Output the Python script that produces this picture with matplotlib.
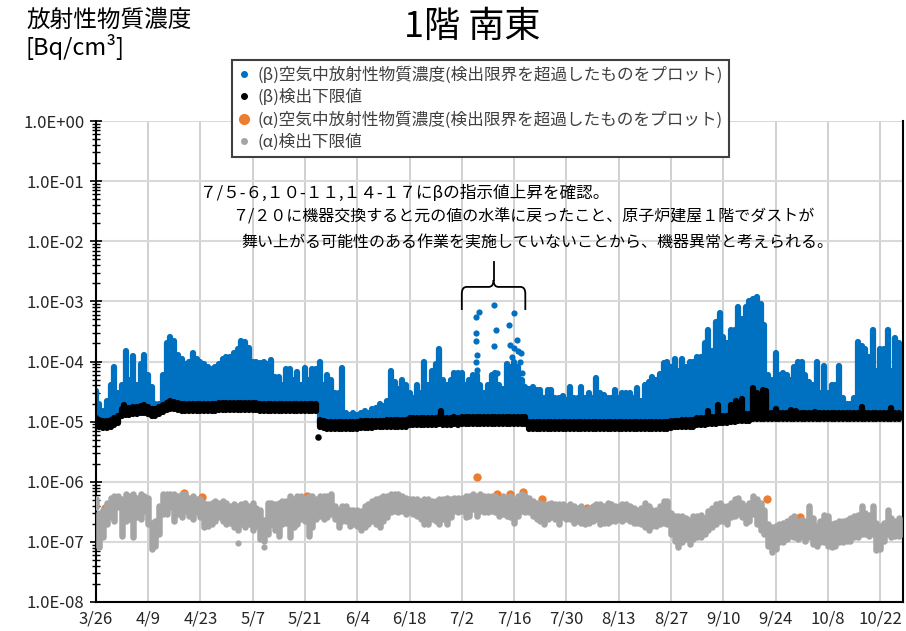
import numpy as np
import pandas as pd
import matplotlib
matplotlib.use("Agg")
import matplotlib.pyplot as plt
import matplotlib.dates as mdates
from matplotlib.lines import Line2D
from matplotlib.path import Path
from matplotlib.patches import PathPatch
from matplotlib.ticker import FixedLocator, LogLocator, FuncFormatter, NullFormatter

plt.rcParams['font.family'] = ['Noto Sans CJK JP', 'DejaVu Sans']

# daily values from 3/26, 216 days
start = pd.Timestamp('2021-03-26')

# (beta) concentration, daily highest reading [x1e-5 Bq/cm3]
beta_peak = [
    3.2, 2.0, 1.5, 2.2, 4, 8, 3, 4, 15, 5, 12.5, 4, 9, 13,
    6, 3.7, 2, 2, 6, 20, 26, 22, 13, 11, 9, 10, 14, 11,
    10, 9, 8, 7.5, 8, 9, 11, 12, 12, 14, 16, 22, 21, 17,
    10, 10, 9.5, 10, 9, 10.5, 5.6, 5.6, 4, 7.5, 7.5, 5, 6.7, 4,
    7.8, 5, 7.5, 7.5, 10, 4, 6, 5, 3, 3, 7.7, 1.4, 1.3, 1.4,
    1.3, 1.4, 1.5, 1.4, 1.6, 1.7, 2.0, 1.8, 2.2, 7, 4.5, 3.5, 5, 4,
    3, 2.5, 4, 3, 10, 4, 7, 9, 16, 5, 4, 5, 6.5, 6.5,
    6.5, 4, 5, 6, 6, 4, 3, 4, 6, 6.5, 4, 3.5, 9, 8,
    10, 8, 5, 3.7, 3.5, 3.7, 3.3, 3.3, 2.5, 3.3, 3.3, 2.5, 2.5, 2.7,
    2.3, 3.7, 2.5, 2.5, 3.8, 2.5, 3, 2.5, 5.3, 3, 2.8, 2.5, 2.5, 3.3,
    2.5, 3, 3, 3, 2.5, 3.6, 2.2, 4, 4.5, 5.5, 5, 6.3, 9.5, 10,
    8, 11, 7, 11, 8, 10, 10, 12, 12, 20, 34, 15, 45, 65,
    26, 20, 34, 34, 82, 50, 80, 100, 110, 120, 90, 40, 6, 5,
    14, 6, 6.5, 6, 5, 8, 10, 10, 6, 4.5, 4, 10, 3, 8.5,
    3, 4, 4, 8.5, 2.5, 2, 2, 2.5, 21, 18, 16, 12, 34, 7,
    16, 16, 34, 7, 25, 20,
]

# (beta) lower detection limit, daily level [x1e-5 Bq/cm3]
beta_lld = [
    1.0, 0.95, 0.9, 0.9, 0.95, 1.0, 1.1, 1.45, 1.5, 1.5, 1.55, 1.55, 1.6, 1.6,
    1.55, 1.45, 1.45, 1.55, 1.65, 1.8, 1.9, 1.85, 1.8, 1.75, 1.75, 1.75, 1.75, 1.75,
    1.75, 1.75, 1.75, 1.75, 1.75, 1.8, 1.8, 1.8, 1.8, 1.8, 1.8, 1.8, 1.8, 1.8,
    1.8, 1.8, 1.75, 1.75, 1.75, 1.75, 1.75, 1.75, 1.75, 1.75, 1.75, 1.75, 1.75, 1.75,
    1.75, 1.75, 1.75, 1.75, 0.95, 0.9, 0.88, 0.88, 0.88, 0.88, 0.88, 0.88, 0.88, 0.88,
    0.88, 0.9, 0.9, 0.9, 0.9, 0.92, 0.92, 0.92, 0.95, 0.95, 0.95, 0.95, 0.95, 0.95,
    1.0, 1.0, 1.0, 1.0, 1.0, 1.0, 1.0, 1.0, 1.05, 1.0, 1.0, 1.0, 1.05, 1.0,
    1.05, 1.05, 1.05, 1.05, 1.05, 1.05, 1.05, 1.05, 1.05, 1.05, 1.05, 1.05, 1.05, 1.05,
    1.05, 1.05, 1.05, 1.05, 0.87, 0.87, 0.87, 0.87, 0.87, 0.87, 0.87, 0.87, 0.87, 0.87,
    0.87, 0.87, 0.87, 0.87, 0.87, 0.87, 0.87, 0.87, 0.87, 0.87, 0.87, 0.87, 0.87, 0.87,
    0.88, 0.88, 0.88, 0.88, 0.88, 0.88, 0.88, 0.88, 0.88, 0.88, 0.88, 0.88, 0.88, 0.88,
    0.9, 0.92, 0.92, 0.95, 0.95, 0.95, 0.95, 1.0, 1.0, 1.02, 1.05, 1.05, 1.05, 1.08,
    1.1, 1.1, 1.15, 1.15, 1.2, 1.2, 1.2, 1.2, 1.25, 1.25, 1.25, 1.25, 1.25, 1.25,
    1.25, 1.25, 1.25, 1.25, 1.25, 1.25, 1.25, 1.25, 1.25, 1.25, 1.25, 1.25, 1.25, 1.25,
    1.25, 1.25, 1.25, 1.25, 1.25, 1.25, 1.25, 1.25, 1.25, 1.25, 1.25, 1.25, 1.25, 1.25,
    1.25, 1.25, 1.25, 1.25, 1.25, 1.25,
]

# short rises of the beta detection limit (day, x1e-5)
lld_bump_day = [7.5, 13, 20, 92.5, 164, 166.5, 170, 171.5, 173, 176, 177, 178.5, 179.5, 182, 186, 187.5, 192.5, 205, 213]
lld_bump_val = [1.9, 1.9, 2.2, 1.5, 1.5, 1.9, 1.9, 2.2, 2.4, 3.6, 3.0, 3.4, 3.2, 1.65, 1.55, 1.5, 1.45, 1.75, 1.7]
lld_low_day = [59.6]
lld_low_val = [0.55]

# (beta) readings of 7/5-6, 7/10-11, 7/14-17 (instrument fault) (day, x1e-5)
fault_day = [101.8, 102.7, 101.9, 101.9, 102.1, 101.9, 102.2, 106.5, 107.2, 106.5, 107.3,
             110.5, 112, 112.7, 111, 112, 113, 113.8, 111.5, 113.5, 114, 110.8]
fault_val = [56, 67, 30, 22, 13, 10, 7.3, 87, 34, 18, 6.5,
             40, 63, 23, 19, 17, 15, 14, 12, 10, 6.5, 8]

# (alpha) lower detection limit, daily range [x1e-7 Bq/cm3]
alpha_hi = [
    5.1, 3.05, 3.45, 4.5, 5.4, 5.8, 5.8, 5.1, 6.2, 5.8, 6.2, 5.4, 6.2, 5.8,
    5.4, 2.1, 2.2, 3.95, 6.2, 6.2, 6.2, 6.2, 5.8, 6.2, 6.2, 5.4, 5.8, 5.1,
    5.1, 4.5, 4.2, 4.5, 4.75, 4.5, 4.75, 4.5, 3.95, 4.2, 3.95, 4.2, 4.5, 3.95,
    4.5, 3.7, 3.45, 2.35, 4.5, 4.5, 4.2, 4.5, 4.75, 4.75, 5.8, 5.1, 5.8, 5.8,
    5.4, 5.8, 5.8, 5.1, 5.8, 5.8, 5.8, 6.2, 3.95, 3.45, 3.95, 3.95, 3.45, 3.45,
    3.45, 3.25, 3.95, 4.2, 4.75, 5.1, 5.4, 5.8, 5.8, 6.2, 6.2, 6.2, 5.8, 5.4,
    5.1, 5.1, 5.1, 4.75, 5.1, 5.1, 4.75, 4.75, 5.1, 5.1, 5.4, 5.1, 5.4, 5.4,
    5.4, 5.8, 5.8, 6.2, 5.8, 6.2, 5.8, 5.8, 5.8, 5.8, 5.1, 5.8, 5.4, 5.8,
    5.1, 5.8, 6.2, 5.8, 5.4, 4.75, 4.5, 4.5, 4.2, 4.2, 4.5, 4.2, 4.2, 4.2,
    3.95, 4.2, 3.95, 3.7, 3.95, 3.45, 3.7, 3.95, 4.2, 4.2, 3.95, 4.5, 4.2, 3.95,
    3.95, 4.2, 4.2, 3.95, 3.7, 3.45, 3.7, 4.5, 3.95, 3.45, 3.45, 3.95, 4.75, 4.75,
    3.05, 2.7, 2.7, 2.7, 2.5, 2.35, 2.7, 2.7, 2.85, 2.5, 3.25, 3.7, 4.2, 4.5,
    3.95, 3.95, 4.5, 5.1, 5.4, 4.5, 3.95, 4.5, 5.8, 5.1, 4.5, 3.45, 1.95, 1.8,
    1.85, 1.95, 2.1, 2.2, 2.5, 2.7, 2.2, 2.35, 2.2, 3.95, 2.5, 1.85, 2.2, 2.85,
    2.7, 1.95, 2.1, 2.2, 2.2, 2.35, 2.5, 2.7, 2.85, 3.95, 3.05, 2.85, 3.95, 2.1,
    1.85, 2.1, 3.45, 2.5, 2.2, 2.5,
]
alpha_lo = [
    3.75, 0.81, 1.2, 1.95, 2.55, 2.25, 3.75, 1.25, 2.25, 2.4, 1.2, 2.55, 2.4, 3.3,
    1.95, 0.76, 0.87, 1.35, 2.9, 2.9, 3.75, 2.25, 2.9, 2.55, 3.3, 2.7, 2.4, 3.1,
    2.55, 1.75, 1.85, 1.95, 2.25, 2.55, 2.25, 1.95, 2.1, 1.75, 1.6, 1.95, 1.75, 1.95,
    1.6, 1.85, 1.1, 1.05, 1.35, 1.95, 1.6, 1.25, 1.95, 2.1, 1.2, 1.75, 1.95, 2.4,
    2.25, 1.25, 1.75, 2.4, 2.7, 2.4, 2.55, 2.9, 2.4, 1.75, 2.25, 2.25, 1.85, 1.95,
    1.85, 1.6, 1.75, 1.95, 2.25, 1.95, 1.75, 2.25, 2.55, 3.1, 3.3, 3.1, 3.3, 2.9,
    3.1, 2.9, 2.7, 2.4, 1.95, 1.95, 2.4, 2.25, 1.95, 2.4, 1.95, 2.55, 3.3, 3.1,
    3.3, 2.55, 2.7, 3.5, 2.7, 3.3, 3.1, 3.1, 3.3, 3.1, 2.7, 2.9, 2.7, 2.55,
    2.1, 2.7, 3.3, 3.1, 3.1, 2.7, 2.4, 2.25, 1.95, 2.4, 2.55, 2.4, 1.95, 2.55,
    2.4, 2.4, 2.1, 2.25, 2.1, 1.95, 2.1, 2.25, 2.4, 1.95, 2.1, 2.1, 2.25, 2.25,
    2.4, 2.25, 2.4, 2.25, 2.1, 2.1, 1.95, 1.75, 1.6, 1.85, 1.85, 1.95, 2.1, 1.95,
    1.35, 1.05, 0.81, 0.98, 1.1, 0.92, 1.1, 1.2, 1.2, 1.35, 1.6, 1.75, 1.95, 2.25,
    2.25, 1.95, 2.55, 2.7, 2.9, 2.55, 2.1, 2.25, 2.9, 1.95, 1.6, 1.35, 0.87, 0.67,
    0.76, 0.98, 0.98, 1.1, 1.25, 1.2, 1.1, 1.2, 1.05, 1.2, 0.92, 0.87, 0.98, 0.98,
    0.87, 0.81, 0.87, 0.98, 0.98, 1.05, 1.05, 1.2, 1.2, 1.35, 1.35, 1.25, 1.35, 0.72,
    0.76, 1.05, 1.35, 1.2, 1.25, 1.25,
]
alpha_low_day = [38.2, 45.1]
alpha_low_val = [0.94, 0.81]

# (alpha) readings above detection limit (day, x1e-7)
alpha_day = [2.5, 23.7, 28.5, 56.5, 102, 102, 107.5, 110.9, 112, 114.5, 119.4, 131.5, 136.8, 179.6, 188.6]
alpha_val = [3.6, 6.4, 5.6, 5.8, 11.8, 3.6, 6.2, 6.2, 4.4, 6.8, 5.1, 3.6, 2.5, 5.1, 2.6]

y_ticks = [1e-8, 1e-7, 1e-6, 1e-5, 1e-4, 1e-3, 1e-2, 1e-1, 1e0]

labels = ['(β)空気中放射性物質濃度(検出限界を超過したものをプロット)',
          '(β)検出下限値',
          '(α)空気中放射性物質濃度(検出限界を超過したものをプロット)',
          '(α)検出下限値']
note_lines = ['７/５-６,１０-１１,１４-１７にβの指示値上昇を確認。',
              '７/２０に機器交換すると元の値の水準に戻ったこと、原子炉建屋１階でダストが',
              '舞い上がる可能性のある作業を実施していないことから、機器異常と考えられる。']

BLUE, BLACK, ORANGE, GRAY = '#0070C0', '#000000', '#ED7D31', '#A5A5A5'


def to_x(d):
    return mdates.date2num(start) + np.asarray(d, dtype=float)


W, H = 906, 631
fig = plt.figure(figsize=(W / 100, H / 100), dpi=100)
ax = fig.add_axes([95.7 / W, 1 - 602 / H, (903 - 95.7) / W, (602 - 121) / H])

day_x = to_x(np.arange(len(beta_peak)))
bp = np.array(beta_peak) * 1e-5
bl = np.array(beta_lld) * 1e-5

# beta concentration (columns from detection limit up to the daily max)
ax.vlines(day_x, bl, bp, colors=BLUE, linewidth=4.5, capstyle='round', zorder=2)
ax.scatter(to_x(fault_day), np.array(fault_val) * 1e-5, s=20, color=BLUE, lw=0, zorder=2)

# beta detection limit
ax.vlines(day_x, bl * 0.87, bl * 1.13, colors=BLACK, linewidth=4.5, capstyle='round', zorder=3)
bump_base = np.interp(lld_bump_day, np.arange(len(beta_lld)), bl)
ax.vlines(to_x(lld_bump_day), bump_base, np.array(lld_bump_val) * 1e-5,
          colors=BLACK, linewidth=4.5, capstyle='round', zorder=3)
ax.scatter(to_x(lld_low_day), np.array(lld_low_val) * 1e-5, s=22, color=BLACK, lw=0, zorder=3)

# alpha concentration
ax.scatter(to_x(alpha_day), np.array(alpha_val) * 1e-7, s=36, color=ORANGE, lw=0, zorder=4)

# alpha detection limit
ax.vlines(day_x, np.array(alpha_lo) * 1e-7, np.array(alpha_hi) * 1e-7,
          colors=GRAY, linewidth=4.7, capstyle='round', zorder=5)
ax.scatter(to_x(alpha_low_day), np.array(alpha_low_val) * 1e-7, s=20, color=GRAY, lw=0, zorder=5)

# axes
ax.set_yscale('log')
ax.set_ylim(1e-8, 1e0)
ax.set_xlim(to_x(0), to_x(216.1))
ax.yaxis.set_major_locator(FixedLocator(y_ticks))
ax.yaxis.set_minor_locator(LogLocator(base=10, subs=np.arange(2, 10), numticks=20))
ax.yaxis.set_minor_formatter(NullFormatter())
ax.yaxis.set_major_formatter(FuncFormatter(lambda v, p: f"{v:.1E}"))

ticks = pd.date_range(start, periods=16, freq='14D')
ax.set_xticks(mdates.date2num(ticks))
ax.set_xticklabels([f"{t.month}/{t.day}" for t in ticks])

ax.set_axisbelow(True)
ax.yaxis.grid(True, which='major', color='#D9D9D9', lw=1.5)
ax.xaxis.grid(True, color='#C8C8C8', lw=1.2)
ax.tick_params(axis='y', which='major', direction='inout', length=8, width=1.2,
               labelsize=12, labelcolor='#262626', pad=4)
ax.tick_params(axis='y', which='minor', direction='inout', length=6, width=1.0)
ax.tick_params(axis='x', length=0, labelsize=12, labelcolor='#262626', pad=6)
ax.spines['top'].set_visible(False)
for s in ['left', 'bottom', 'right']:
    ax.spines[s].set_linewidth(1.5)
    ax.spines[s].set_color('black')

# brace over the fault period
xl, xm, xr, r = to_x(98), to_x(106.5), to_x(115), 1.3
yb, ym, yt = 7.2e-4, 1.74e-3, 4.5e-3
for x0, sgn in [(xl, 1), (xr, -1)]:
    verts = [(x0, yb), (x0, ym / 1.3), (x0, ym), (x0 + sgn * r, ym),
             (xm - sgn * r, ym), (xm, ym), (xm, ym * 1.3)]
    codes = [Path.MOVETO, Path.LINETO, Path.CURVE3, Path.CURVE3,
             Path.LINETO, Path.CURVE3, Path.CURVE3]
    ax.add_patch(PathPatch(Path(verts, codes), fill=False, lw=1.3, color='black', zorder=6))
ax.plot([xm, xm], [ym * 1.3, yt], color='black', lw=1.3, zorder=6)

# titles and notes
fig.text(472 / W, 1 - 27 / H, '1階 南東', ha='center', va='center', fontsize=26)
fig.text(26 / W, 1 - 20 / H, '放射性物質濃度', ha='left', va='center', fontsize=17)
fig.text(26 / W, 1 - 47 / H, '[Bq/cm³]', ha='left', va='center', fontsize=17)
for (x0, y0), size, line in zip([(200, 193), (232, 217), (241, 242)], [12, 11.5, 11.5], note_lines):
    fig.text(x0 / W, 1 - y0 / H, line, ha='left', va='center', fontsize=size)

handles = [Line2D([], [], ls='none', marker='o', ms=4, color=BLUE),
           Line2D([], [], ls='none', marker='o', ms=4, color=BLACK),
           Line2D([], [], ls='none', marker='o', ms=7, color=ORANGE),
           Line2D([], [], ls='none', marker='o', ms=4, color=GRAY)]
leg = fig.legend(handles, labels, loc='upper left', bbox_to_anchor=(232 / W, 1 - 60 / H),
                 frameon=True, fancybox=False, edgecolor='#404040', framealpha=1,
                 fontsize=12, handlelength=0.8, handletextpad=0.4, labelspacing=0.32,
                 borderpad=0.35, borderaxespad=0)
leg.get_frame().set_linewidth(1.5)
for t in leg.get_texts():
    t.set_color('#404040')

fig.savefig('out.png', dpi=100)
